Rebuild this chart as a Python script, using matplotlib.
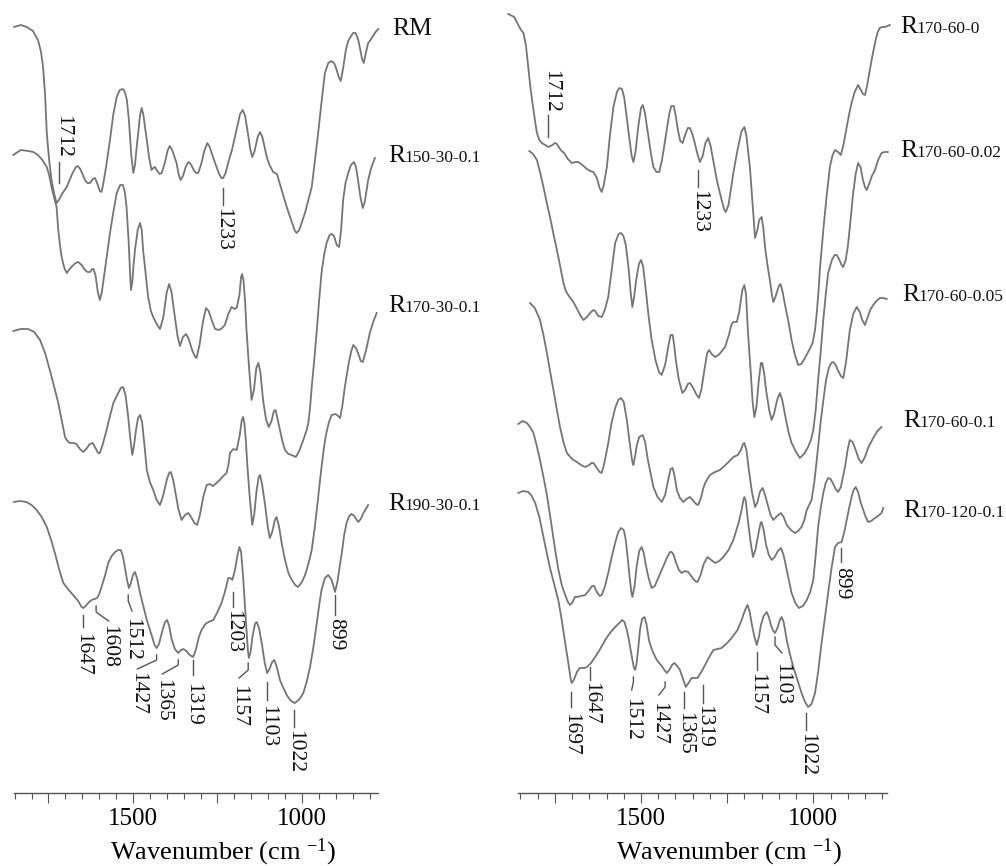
import matplotlib
matplotlib.use('Agg')
import matplotlib.pyplot as plt
from matplotlib.ticker import MultipleLocator, FixedLocator, FuncFormatter

plt.rcParams['font.family'] = ['Liberation Serif', 'DejaVu Serif']
plt.rcParams['mathtext.fontset'] = 'custom'
plt.rcParams['mathtext.rm'] = 'Liberation Serif'
plt.rcParams['mathtext.it'] = 'Liberation Serif:italic'

# ---------------- data: (wavenumber cm-1, transmittance a.u., spectra stacked) ----------------
# Left panel
RM = [(1852, 77.3), (1832, 77.5), (1814, 77.3), (1796, 76.9), (1781, 76.0), (1772, 74.8), (1766, 73.3), (1760, 70.5),
      (1755, 66.7), (1748, 64.0), (1741, 62.0), (1733, 60.6), (1726, 59.7), (1719, 60.0), (1710, 60.6), (1696, 61.3),
      (1680, 62.6), (1669, 63.3), (1663, 63.4), (1656, 63.1), (1648, 62.5), (1642, 62.0), (1635, 61.7), (1627, 61.7),
      (1619, 62.1), (1612, 62.2), (1605, 61.6), (1598, 60.9), (1593, 60.8), (1588, 61.6), (1580, 63.2), (1568, 66.0),
      (1558, 68.6), (1548, 70.3), (1539, 71.0), (1530, 71.1), (1524, 70.8), (1518, 70.0), (1512, 68.0), (1505, 64.5),
      (1499, 62.7), (1494, 63.5), (1489, 65.3), (1485, 66.5), (1479, 68.5), (1474, 69.2), (1469, 68.5), (1464, 67.2),
      (1459, 66.0), (1452, 64.2), (1445, 63.0), (1440, 63.2), (1435, 63.3), (1428, 62.9), (1421, 62.6), (1415, 62.7),
      (1405, 63.8), (1397, 65.0), (1391, 65.4), (1384, 65.0), (1376, 64.2), (1371, 63.7), (1365, 62.6), (1359, 62.0),
      (1352, 62.4), (1344, 63.3), (1336, 63.8), (1329, 63.6), (1320, 63.0), (1313, 62.7), (1307, 62.7), (1298, 63.6),
      (1289, 64.9), (1280, 65.7), (1273, 65.3), (1265, 64.5), (1257, 63.7), (1245, 62.6), (1238, 62.2), (1233, 62.2),
      (1226, 62.7), (1216, 64.0), (1207, 65.0), (1195, 66.8), (1183, 68.6), (1175, 69.0), (1168, 68.4), (1160, 66.7),
      (1153, 65.1), (1147, 64.3), (1140, 64.9), (1131, 66.3), (1124, 66.8), (1117, 66.3), (1110, 65.2), (1104, 64.3),
      (1096, 63.5), (1085, 62.8), (1074, 62.6), (1060, 61.0), (1045, 59.3), (1030, 57.8), (1022, 57.0), (1016, 56.7),
      (1008, 57.0), (1000, 57.8), (991, 58.7), (981, 60.0), (971, 61.3), (962, 63.8), (952, 66.7), (942, 69.8),
      (932, 72.7), (922, 73.7), (912, 73.9), (905, 73.7), (899, 73.2), (891, 72.3), (885, 71.9), (878, 73.2),
      (870, 75.0), (863, 75.9), (858, 76.2), (849, 76.7), (841, 76.7), (834, 76.1), (829, 75.3), (822, 74.1),
      (817, 73.7), (811, 74.7), (804, 75.7), (797, 76.0), (790, 76.4), (782, 76.8), (774, 77.1)]

R150_30 = [(1854, 64.5), (1832, 65.0), (1810, 64.9), (1795, 64.8), (1781, 64.5), (1768, 64.0), (1755, 63.3),
           (1748, 62.5), (1741, 61.3), (1733, 60.2), (1726, 59.3), (1721, 57.0), (1716, 55.5), (1711, 54.3),
           (1703, 53.2), (1696, 52.7), (1685, 53.2), (1670, 53.7), (1662, 53.8), (1652, 53.5), (1642, 53.0),
           (1634, 52.8), (1627, 52.8), (1621, 53.1), (1617, 53.1), (1611, 52.5), (1604, 50.8), (1598, 50.0),
           (1592, 50.8), (1583, 53.0), (1575, 55.0), (1568, 56.7), (1558, 58.8), (1548, 60.7), (1538, 61.5),
           (1530, 61.5), (1524, 60.8), (1519, 59.3), (1513, 56.0), (1509, 53.0), (1506, 51.0), (1502, 51.8),
           (1498, 53.6), (1494, 55.0), (1486, 57.0), (1479, 57.7), (1474, 57.0), (1470, 55.0), (1462, 52.5),
           (1455, 50.3), (1447, 48.9), (1440, 48.3), (1430, 47.6), (1420, 47.1), (1410, 48.3), (1400, 50.8),
           (1393, 51.6), (1386, 50.8), (1376, 48.3), (1368, 46.4), (1361, 45.4), (1352, 46.3), (1343, 46.6),
           (1335, 46.1), (1325, 45.0), (1316, 44.3), (1312, 44.2), (1303, 45.5), (1293, 47.8), (1284, 49.2),
           (1276, 48.9), (1265, 47.8), (1257, 47.1), (1245, 47.0), (1236, 47.2), (1228, 47.5), (1218, 48.6),
           (1208, 49.3), (1200, 49.1), (1193, 49.2), (1185, 50.5), (1180, 52.3), (1177, 52.6), (1173, 52.0),
           (1168, 49.8), (1164, 47.0), (1157, 43.5), (1149, 40.0), (1142, 41.0), (1135, 43.2), (1129, 43.7),
           (1123, 42.8), (1115, 40.0), (1106, 38.0), (1098, 37.3), (1090, 37.9), (1083, 38.9), (1078, 39.0),
           (1072, 38.1), (1065, 37.0), (1058, 35.9), (1050, 35.0), (1040, 34.6), (1030, 34.5), (1018, 34.3),
           (1008, 34.9), (996, 36.0), (986, 37.0), (981, 37.7), (976, 39.2), (971, 41.3), (963, 44.2), (956, 47.0),
           (949, 50.0), (942, 52.7), (934, 54.6), (927, 55.7), (918, 56.5), (912, 56.6), (905, 56.4), (897, 55.5),
           (890, 55.3), (884, 57.0), (878, 60.0), (871, 61.7), (863, 62.7), (855, 63.5), (846, 63.8), (840, 63.3),
           (834, 62.0), (827, 60.3), (820, 59.2), (814, 59.8), (804, 62.0), (795, 63.2), (784, 64.2)]

R170_30 = [(1854, 46.9), (1832, 47.1), (1810, 47.1), (1792, 46.8), (1775, 46.0), (1760, 44.7), (1746, 43.0),
           (1733, 41.3), (1721, 39.7), (1711, 38.0), (1701, 36.3), (1694, 35.9), (1686, 35.7), (1676, 35.7),
           (1667, 35.6), (1657, 35.1), (1647, 34.8), (1638, 35.1), (1628, 35.6), (1619, 35.7), (1611, 35.2),
           (1603, 34.7), (1598, 34.7), (1590, 35.5), (1578, 37.0), (1568, 38.4), (1558, 39.7), (1545, 40.6),
           (1536, 41.2), (1529, 41.3), (1522, 40.5), (1514, 38.3), (1508, 36.2), (1502, 34.5), (1497, 35.4),
           (1491, 37.0), (1485, 38.2), (1479, 38.5), (1473, 37.8), (1466, 35.5), (1459, 33.0), (1450, 31.8),
           (1440, 31.0), (1430, 30.0), (1420, 29.5), (1411, 30.4), (1400, 32.0), (1393, 32.7), (1388, 32.8),
           (1381, 32.0), (1373, 30.5), (1365, 29.0), (1356, 28.0), (1346, 28.5), (1336, 28.7), (1328, 28.3),
           (1318, 27.7), (1310, 27.5), (1302, 28.5), (1292, 30.3), (1282, 31.5), (1273, 31.6), (1263, 31.4),
           (1253, 31.7), (1243, 32.0), (1233, 32.4), (1223, 32.7), (1217, 33.6), (1213, 34.7), (1203, 35.1),
           (1193, 35.0), (1184, 36.5), (1178, 38.0), (1174, 38.3), (1170, 37.6), (1166, 36.0), (1162, 33.7),
           (1155, 30.5), (1147, 27.5), (1141, 28.6), (1134, 31.0), (1128, 32.3), (1124, 32.5), (1118, 31.6),
           (1109, 29.5), (1101, 27.3), (1095, 26.2), (1088, 26.8), (1080, 28.0), (1075, 28.3), (1068, 27.4),
           (1059, 25.5), (1050, 24.0), (1040, 22.7), (1030, 22.0), (1020, 21.5), (1011, 21.3), (1000, 21.8),
           (992, 22.4), (986, 23.0), (978, 24.0), (971, 25.0), (963, 27.0), (956, 29.0), (949, 31.2), (942, 33.3),
           (935, 35.2), (929, 36.5), (920, 37.8), (912, 38.5), (900, 38.6), (893, 38.4), (887, 38.2), (880, 39.5),
           (873, 41.3), (862, 43.6), (854, 44.9), (848, 45.5), (840, 45.2), (832, 44.5), (826, 43.9), (820, 43.8),
           (810, 45.0), (799, 46.7), (789, 47.8), (779, 48.7)]

R190_30 = [(1852, 29.8), (1834, 29.9), (1815, 29.8), (1800, 29.5), (1785, 29.0), (1770, 28.3), (1755, 27.3),
           (1743, 26.1), (1731, 24.7), (1718, 23.0), (1706, 21.7), (1690, 21.0), (1677, 20.5), (1662, 19.9),
           (1652, 19.3), (1647, 19.2), (1640, 19.4), (1630, 19.8), (1622, 20.0), (1614, 20.1), (1606, 20.2),
           (1600, 20.6), (1593, 21.3), (1583, 22.4), (1573, 23.7), (1563, 24.4), (1553, 24.8), (1544, 25.0),
           (1536, 25.0), (1530, 24.4), (1524, 23.3), (1517, 21.9), (1512, 21.2), (1507, 21.6), (1500, 22.5),
           (1494, 22.8), (1488, 22.2), (1479, 20.7), (1468, 19.2), (1459, 18.0), (1445, 16.5), (1436, 15.5),
           (1430, 15.2), (1423, 15.6), (1414, 16.8), (1405, 17.8), (1399, 18.0), (1393, 17.4), (1385, 16.0),
           (1376, 15.1), (1366, 14.7), (1358, 15.0), (1351, 15.1), (1342, 14.9), (1332, 14.5), (1322, 14.3),
           (1314, 15.0), (1305, 16.3), (1297, 17.0), (1288, 17.5), (1282, 17.7), (1270, 17.9), (1262, 18.0),
           (1250, 18.8), (1238, 19.7), (1228, 20.8), (1218, 22.2), (1212, 22.2), (1206, 22.0), (1198, 23.0),
           (1190, 24.6), (1185, 25.3), (1180, 24.8), (1174, 22.3), (1166, 18.0), (1160, 15.0), (1157, 14.2),
           (1152, 14.8), (1146, 16.4), (1139, 17.6), (1134, 17.8), (1127, 17.2), (1118, 15.5), (1110, 13.7),
           (1103, 12.7), (1096, 13.1), (1088, 13.8), (1082, 14.0), (1075, 13.4), (1065, 12.0), (1055, 11.2),
           (1045, 10.5), (1035, 10.0), (1027, 9.8), (1021, 9.7), (1010, 10.0), (1003, 10.3), (996, 10.7),
           (986, 11.8), (976, 13.3), (966, 15.3), (956, 17.7), (948, 19.7), (942, 21.0), (932, 22.2), (922, 22.5),
           (912, 22.0), (906, 21.3), (902, 20.8), (895, 21.8), (889, 23.2), (882, 24.7), (875, 26.5), (868, 27.7),
           (860, 28.4), (853, 28.6), (845, 28.4), (838, 28.0), (833, 27.8), (826, 28.1), (818, 28.7), (811, 29.1),
           (804, 29.5)]

# Right panel
R170_60_0 = [(1885, 78.6), (1868, 78.3), (1856, 77.5), (1848, 77.0), (1841, 76.7), (1834, 75.5), (1827, 73.3),
             (1820, 71.0), (1812, 69.0), (1807, 67.8), (1802, 66.7), (1795, 66.0), (1788, 65.7), (1778, 65.5),
             (1769, 65.3), (1757, 65.5), (1750, 65.7), (1744, 65.6), (1733, 65.0), (1723, 64.7), (1712, 64.1),
             (1701, 63.7), (1690, 63.8), (1682, 63.8), (1670, 63.5), (1657, 63.1), (1647, 62.9), (1638, 62.8),
             (1628, 62.2), (1620, 61.2), (1614, 60.8), (1608, 61.5), (1599, 63.3), (1590, 66.5), (1580, 69.3),
             (1570, 70.8), (1563, 71.2), (1555, 71.1), (1549, 70.3), (1544, 69.0), (1535, 66.5), (1527, 64.4),
             (1522, 63.8), (1516, 64.8), (1508, 67.3), (1500, 69.2), (1495, 69.5), (1489, 68.8), (1480, 66.7),
             (1471, 64.6), (1464, 63.3), (1455, 62.8), (1447, 62.8), (1439, 64.0), (1430, 66.0), (1418, 68.6),
             (1412, 69.4), (1405, 69.4), (1399, 68.4), (1393, 67.0), (1386, 65.9), (1379, 65.7), (1371, 66.6),
             (1364, 67.2), (1358, 67.2), (1352, 66.7), (1346, 66.0), (1337, 64.7), (1329, 63.8), (1321, 64.4),
             (1313, 65.7), (1305, 66.2), (1298, 65.4), (1290, 63.9), (1280, 62.0), (1266, 60.0), (1258, 59.0),
             (1254, 58.8), (1246, 59.5), (1238, 61.3), (1232, 62.7), (1220, 65.0), (1208, 66.9), (1200, 67.3),
             (1194, 66.4), (1184, 63.3), (1176, 59.5), (1169, 56.2), (1163, 56.9), (1157, 58.0), (1150, 58.3),
             (1145, 57.2), (1140, 55.3), (1133, 53.5), (1126, 52.0), (1120, 50.5), (1116, 49.8), (1110, 50.3),
             (1100, 51.4), (1095, 51.6), (1089, 50.8), (1082, 49.5), (1072, 47.8), (1063, 46.0), (1054, 44.6),
             (1044, 43.5), (1035, 43.6), (1024, 44.2), (1012, 45.0), (1002, 45.7), (995, 47.0), (990, 48.7),
             (985, 50.8), (981, 53.0), (976, 55.0), (971, 57.0), (966, 58.8), (961, 60.5), (956, 62.0), (952, 63.3),
             (944, 64.5), (937, 65.0), (928, 64.8), (920, 64.5), (912, 65.6), (903, 67.3), (896, 68.6), (889, 69.7),
             (880, 70.8), (870, 71.5), (862, 71.0), (856, 70.6), (850, 70.5), (843, 71.6), (836, 73.0), (828, 74.5),
             (821, 75.7), (814, 76.7), (807, 77.2), (800, 77.3), (792, 77.3), (785, 77.4), (778, 77.5)]

R170_60_002 = [(1824, 64.9), (1813, 64.6), (1802, 64.0), (1793, 62.8), (1783, 61.3), (1774, 59.8), (1764, 58.3),
               (1754, 56.6), (1744, 55.0), (1734, 53.3), (1725, 51.7), (1719, 51.0), (1715, 50.7), (1705, 50.2),
               (1696, 49.8), (1684, 49.0), (1675, 48.4), (1667, 48.0), (1657, 48.3), (1645, 48.8), (1638, 49.0),
               (1633, 48.9), (1624, 48.4), (1614, 48.3), (1605, 49.0), (1595, 50.3), (1585, 53.0), (1575, 55.7),
               (1565, 56.6), (1558, 56.7), (1551, 56.4), (1544, 55.5), (1536, 53.2), (1530, 50.8), (1525, 49.3),
               (1520, 50.3), (1514, 52.0), (1506, 53.6), (1500, 54.0), (1494, 53.4), (1486, 51.0), (1478, 48.4),
               (1469, 46.0), (1458, 44.0), (1448, 42.8), (1440, 42.5), (1430, 43.5), (1420, 45.5), (1414, 46.5),
               (1408, 46.5), (1404, 45.6), (1399, 44.0), (1390, 42.0), (1380, 40.7), (1372, 41.0), (1364, 41.6),
               (1358, 41.7), (1350, 41.3), (1340, 40.6), (1332, 40.2), (1325, 41.0), (1316, 43.0), (1308, 44.7),
               (1302, 45.0), (1295, 44.6), (1285, 44.3), (1275, 44.5), (1265, 44.9), (1256, 45.3), (1245, 46.5),
               (1238, 47.5), (1232, 47.8), (1222, 47.8), (1215, 48.8), (1206, 51.0), (1200, 51.5), (1195, 50.5),
               (1190, 47.0), (1182, 43.0), (1176, 39.8), (1171, 38.3), (1165, 39.3), (1158, 42.0), (1152, 43.7),
               (1148, 43.7), (1142, 42.5), (1137, 41.0), (1128, 39.0), (1121, 38.0), (1114, 38.6), (1105, 40.0),
               (1097, 40.7), (1090, 40.0), (1082, 38.5), (1072, 36.8), (1063, 35.7), (1050, 34.8), (1039, 34.2),
               (1027, 34.6), (1015, 35.3), (1007, 36.0), (1000, 37.0), (993, 39.0), (986, 42.0), (978, 45.0),
               (971, 48.0), (964, 50.5), (957, 52.7), (946, 54.0), (938, 54.5), (932, 54.5), (924, 54.0), (918, 53.5),
               (913, 53.3), (906, 54.0), (900, 55.3), (893, 57.6), (885, 60.5), (877, 62.6), (870, 63.7), (863, 63.3),
               (856, 62.0), (850, 61.3), (845, 61.0), (838, 61.6), (830, 62.4), (821, 63.0), (812, 64.0), (802, 64.7),
               (793, 64.8), (784, 64.8)]

R170_60_005 = [(1822, 49.7), (1808, 49.2), (1793, 48.0), (1783, 46.5), (1773, 44.7), (1764, 42.9), (1754, 41.0),
               (1745, 39.2), (1735, 37.3), (1725, 35.8), (1715, 34.7), (1700, 34.1), (1686, 33.8), (1674, 33.5),
               (1662, 33.3), (1650, 33.5), (1644, 33.7), (1638, 33.7), (1630, 33.3), (1620, 32.8), (1614, 32.7),
               (1607, 33.6), (1600, 34.8), (1595, 35.7), (1586, 37.6), (1575, 39.2), (1566, 40.0), (1558, 40.2),
               (1550, 39.8), (1541, 38.0), (1532, 35.5), (1525, 33.8), (1522, 33.5), (1517, 34.4), (1512, 35.5),
               (1505, 36.3), (1495, 36.5), (1488, 35.8), (1480, 34.0), (1471, 32.5), (1464, 31.3), (1452, 30.3),
               (1440, 29.8), (1430, 30.5), (1420, 32.2), (1414, 33.1), (1408, 33.2), (1402, 32.3), (1396, 31.0),
               (1387, 30.2), (1377, 29.8), (1368, 30.1), (1358, 30.3), (1348, 29.9), (1340, 29.6), (1334, 29.5),
               (1326, 30.2), (1319, 31.2), (1314, 31.7), (1300, 32.5), (1285, 32.8), (1271, 33.0), (1255, 33.5),
               (1240, 34.0), (1232, 34.3), (1219, 34.5), (1210, 35.0), (1204, 35.6), (1200, 35.7), (1194, 35.0),
               (1187, 33.0), (1178, 30.8), (1169, 29.3), (1162, 29.8), (1155, 30.8), (1147, 31.2), (1140, 30.5),
               (1132, 29.5), (1124, 28.5), (1116, 28.0), (1105, 28.4), (1094, 28.7), (1086, 28.3), (1077, 27.5),
               (1065, 27.0), (1053, 26.7), (1044, 26.9), (1034, 27.3), (1026, 28.0), (1019, 29.0), (1012, 29.5),
               (1005, 30.0), (997, 31.8), (990, 34.0), (984, 36.0), (978, 38.0), (970, 40.2), (963, 42.0), (955, 43.2),
               (948, 43.7), (942, 43.8), (935, 43.5), (929, 43.0), (920, 42.4), (913, 42.2), (905, 43.8), (894, 47.0),
               (884, 48.6), (874, 49.3), (865, 48.8), (858, 48.0), (850, 47.5), (842, 48.3), (835, 49.0), (826, 49.5),
               (817, 49.9), (807, 50.2), (797, 50.2), (787, 50.1)]

R170_60_01 = [(1856, 37.6), (1844, 37.9), (1831, 37.7), (1822, 37.3), (1812, 36.7), (1803, 35.5), (1793, 34.0),
              (1783, 32.3), (1773, 30.5), (1761, 27.8), (1749, 25.0), (1740, 23.1), (1730, 21.5), (1718, 20.3),
              (1712, 19.8), (1706, 19.5), (1698, 19.8), (1692, 20.3), (1686, 20.3), (1674, 20.4), (1662, 20.5),
              (1650, 21.0), (1642, 21.4), (1636, 21.4), (1628, 20.8), (1620, 20.4), (1614, 20.5), (1605, 21.3),
              (1595, 22.7), (1585, 24.3), (1575, 25.7), (1566, 26.8), (1558, 27.2), (1550, 27.0), (1545, 26.2),
              (1541, 25.0), (1533, 22.3), (1528, 20.8), (1525, 20.3), (1519, 21.3), (1512, 23.5), (1505, 24.9),
              (1498, 25.3), (1492, 24.7), (1486, 23.5), (1478, 22.2), (1469, 21.2), (1460, 21.4), (1450, 22.2),
              (1440, 23.0), (1425, 24.2), (1416, 24.8), (1411, 24.8), (1405, 24.5), (1399, 23.8), (1390, 23.0),
              (1382, 22.7), (1373, 22.9), (1363, 22.8), (1350, 22.2), (1343, 21.9), (1336, 21.8), (1327, 22.5),
              (1318, 23.6), (1307, 24.3), (1296, 24.0), (1285, 23.7), (1273, 23.9), (1261, 24.3), (1246, 25.0),
              (1232, 26.0), (1216, 27.8), (1208, 29.0), (1203, 30.0), (1200, 30.3), (1196, 29.9), (1190, 28.0),
              (1182, 25.8), (1175, 24.3), (1168, 25.0), (1160, 26.5), (1153, 27.7), (1150, 27.8), (1144, 27.0),
              (1137, 25.5), (1129, 24.5), (1121, 24.0), (1112, 24.3), (1103, 24.9), (1094, 25.2), (1087, 24.6),
              (1080, 23.5), (1071, 22.0), (1063, 20.7), (1052, 19.7), (1042, 19.2), (1030, 19.4), (1019, 20.0),
              (1009, 20.8), (1000, 22.0), (993, 24.5), (986, 27.3), (978, 29.3), (971, 30.7), (964, 31.7),
              (957, 32.2), (950, 32.1), (942, 31.6), (935, 31.1), (928, 30.8), (920, 31.3), (914, 32.3), (908, 33.3),
              (900, 35.1), (894, 36.0), (886, 35.8), (877, 35.0), (868, 34.1), (860, 33.7), (850, 34.3), (840, 35.3),
              (826, 36.2), (814, 36.9), (802, 37.3)]

R170_120_01 = [(1856, 30.7), (1842, 30.9), (1827, 30.8), (1817, 30.4), (1807, 29.7), (1795, 28.3), (1783, 26.3),
               (1774, 24.8), (1764, 23.2), (1752, 21.6), (1740, 20.0), (1730, 18.0), (1720, 15.7), (1710, 13.5),
               (1704, 12.1), (1701, 11.7), (1695, 12.0), (1686, 12.8), (1678, 13.2), (1672, 13.2), (1664, 13.2),
               (1657, 13.3), (1645, 13.7), (1633, 14.3), (1620, 15.0), (1604, 16.0), (1590, 16.7), (1575, 17.3),
               (1563, 17.7), (1555, 18.0), (1548, 17.8), (1541, 17.0), (1535, 16.0), (1527, 14.4), (1521, 13.3),
               (1517, 13.0), (1513, 13.6), (1507, 15.5), (1503, 17.0), (1497, 18.1), (1490, 18.3), (1484, 17.6),
               (1477, 16.0), (1468, 15.0), (1460, 14.4), (1454, 14.0), (1440, 13.4), (1432, 13.0), (1425, 12.7),
               (1418, 13.0), (1410, 13.5), (1403, 13.7), (1395, 13.4), (1387, 13.0), (1378, 12.1), (1370, 11.3),
               (1362, 11.7), (1353, 12.2), (1345, 12.2), (1336, 12.2), (1325, 12.8), (1314, 13.5), (1302, 14.3),
               (1290, 15.0), (1278, 15.1), (1266, 15.2), (1250, 15.7), (1237, 16.2), (1220, 17.0), (1208, 18.0),
               (1198, 19.0), (1191, 19.5), (1185, 18.9), (1178, 17.5), (1170, 16.2), (1164, 15.5), (1158, 16.3),
               (1152, 17.5), (1144, 18.4), (1135, 18.8), (1129, 18.3), (1123, 17.5), (1116, 16.9), (1111, 16.7),
               (1104, 17.2), (1097, 18.0), (1092, 18.3), (1086, 17.8), (1077, 16.0), (1068, 14.6), (1058, 13.3),
               (1046, 12.0), (1034, 10.7), (1024, 9.8), (1015, 9.3), (1005, 9.6), (995, 10.7), (986, 12.8),
               (976, 15.7), (966, 18.3), (957, 20.7), (947, 23.2), (937, 25.3), (928, 25.7), (918, 25.8), (910, 26.8),
               (903, 28.0), (896, 29.2), (889, 30.3), (883, 31.0), (877, 31.3), (870, 30.8), (862, 29.7), (855, 29.0),
               (848, 28.3), (841, 27.8), (832, 27.9), (821, 28.2), (812, 28.4), (802, 28.7), (797, 29.2)]

left_series = [RM, R150_30, R170_30, R190_30]
right_series = [R170_60_0, R170_60_002, R170_60_005, R170_60_01, R170_120_01]

# sample names: (main letter, small part)
left_names = [("RM", ""), ("R", "150-30-0.1"), ("R", "170-30-0.1"), ("R", "190-30-0.1")]
right_names = [("R", "170-60-0"), ("R", "170-60-0.02"), ("R", "170-60-0.05"), ("R", "170-60-0.1"), ("R", "170-120-0.1")]

# peak annotations: (label, leader path [(wn, T), ...], text wn, text T, vertical anchor)
left_peaks = [
    ("1712", [(1718, 63.8), (1718, 61.7)], 1707, 64.2, 'bottom'),
    ("1233", [(1233, 61.2), (1233, 59.5)], 1235, 59.2, 'top'),
    ("1647", [(1649, 18.5), (1649, 17.3)], 1649, 16.7, 'top'),
    ("1608", [(1609, 19.4), (1609, 18.8), (1572, 17.9)], 1571, 17.5, 'top'),
    ("1512", [(1514, 20.5), (1514, 19.9), (1503, 18.9)], 1503, 18.2, 'top'),
    ("1427", [(1430, 14.5), (1430, 14.0), (1487, 13.1)], 1487, 12.8, 'top'),
    ("1365", [(1366, 14.0), (1366, 13.5), (1413, 12.6)], 1413, 12.1, 'top'),
    ("1319", [(1322, 14.0), (1322, 12.5)], 1322, 11.7, 'top'),
    ("1203", [(1203, 20.8), (1203, 19.3)], 1205, 19.0, 'top'),
    ("1157", [(1159, 13.7), (1159, 13.0), (1186, 12.2)], 1186, 11.5, 'top'),
    ("1103", [(1104, 11.8), (1104, 10.0)], 1102, 9.5, 'top'),
    ("1022", [(1024, 9.0), (1024, 7.3)], 1021, 7.0, 'top'),
    ("899", [(902, 20.5), (902, 18.5)], 899, 18.2, 'top'),
]
right_peaks = [
    ("1712", [(1769, 68.5), (1769, 66.3)], 1761, 68.7, 'bottom'),
    ("1233", [(1334, 63.0), (1334, 61.3)], 1332, 61.0, 'top'),
    ("1697", [(1703, 10.8), (1703, 9.3)], 1703, 8.7, 'top'),
    ("1647", [(1648, 13.3), (1648, 12.0)], 1645, 11.8, 'top'),
    ("1512", [(1522, 12.3), (1522, 11.8), (1527, 11.0)], 1527, 10.2, 'top'),
    ("1427", [(1430, 11.8), (1430, 11.3), (1448, 10.5)], 1449, 9.8, 'top'),
    ("1365", [(1374, 10.8), (1374, 9.2)], 1374, 8.8, 'top'),
    ("1319", [(1319, 11.5), (1319, 9.7)], 1319, 9.5, 'top'),
    ("1157", [(1163, 14.8), (1163, 13.0)], 1163, 12.7, 'top'),
    ("1103", [(1111, 16.3), (1111, 15.5), (1091, 14.7)], 1092, 13.7, 'top'),
    ("1022", [(1022, 8.7), (1022, 7.0)], 1020, 6.7, 'top'),
    ("899", [(921, 25.2), (921, 23.8)], 918, 23.3, 'top'),
]

# ---------------- layout ----------------
W, H = 1006, 866
fig = plt.figure(figsize=(W / 100, H / 100), dpi=100)


def px_axes(x0, x1, y_top, y_bot):
    return fig.add_axes([x0 / W, 1 - y_bot / H, (x1 - x0) / W, (y_bot - y_top) / H])


axL = px_axes(14, 378.3, 0, 793)
axR = px_axes(518.3, 886.7, 0, 793)

LINE_COLOR = '#757575'


def style_axis(ax, xlim, label_x):
    ax.set_xlim(*xlim)
    ax.set_ylim(0.7, 80)
    ax.patch.set_visible(False)
    for s in ('top', 'left', 'right'):
        ax.spines[s].set_visible(False)
    ax.spines['bottom'].set_color('#555555')
    ax.spines['bottom'].set_linewidth(1.0)
    ax.set_yticks([])
    ax.xaxis.set_major_locator(FixedLocator([1750, 1500, 1250, 1000]))
    ax.xaxis.set_minor_locator(MultipleLocator(50))
    ax.xaxis.set_major_formatter(FuncFormatter(lambda v, p: f"{int(v)}" if int(v) in (1500, 1000) else ""))
    ax.tick_params(axis='x', which='major', direction='out', length=7.2, width=0.8, color='#555555',
                   labelsize=18, pad=3.5)
    ax.tick_params(axis='x', which='minor', direction='out', length=4.3, width=0.8, color='#555555')
    ax.set_xlabel('Wavenumber (cm $^{-1}$)', fontsize=19)
    ax.xaxis.set_label_coords(label_x, -0.055)


style_axis(axL, (1852, 774), 0.574)
style_axis(axR, (1856, 787), 0.572)

for ax, series in ((axL, left_series), (axR, right_series)):
    for spec in series:
        wn = [p[0] for p in spec]
        T = [p[1] for p in spec]
        ax.plot(wn, T, color=LINE_COLOR, lw=1.3, clip_on=False, solid_joinstyle='round')

for ax, peaks in ((axL, left_peaks), (axR, right_peaks)):
    for label, path, tx, ty, va in peaks:
        xs = [p[0] for p in path]
        ys = [p[1] for p in path]
        ax.plot(xs, ys, color='#555555', lw=1.0, clip_on=False)
        ax.text(tx, ty, label, rotation=270, ha='center', va=va, fontsize=15.5, color='#111111')

# sample names (pixel positions: left x, baseline y)
left_name_pos = [(392, 35), (388, 162), (388, 312), (388, 510)]
right_name_pos = [(900, 33), (900, 157), (902, 301), (903, 427), (903, 517)]
for names, poss in ((left_names, left_name_pos), (right_names, right_name_pos)):
    for (main, sub), (x, y) in zip(names, poss):
        fig.text(x / W, 1 - y / H, main, fontsize=18.5, va='baseline', ha='left', color='#111111')
        if sub:
            fig.text((x + 16) / W, 1 - y / H, sub, fontsize=12.5, va='baseline', ha='left', color='#111111')

fig.savefig('out.png', dpi=100)
